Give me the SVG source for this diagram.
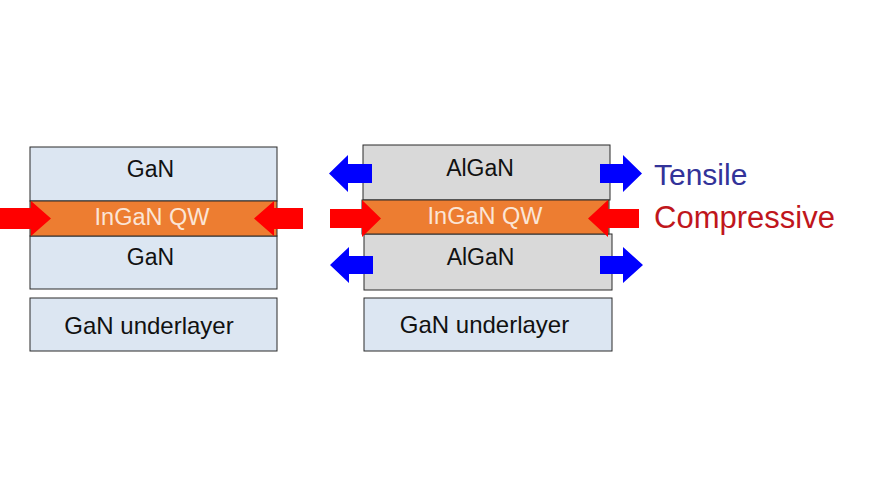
<svg xmlns="http://www.w3.org/2000/svg" width="887" height="498" viewBox="0 0 887 498">
<style>
.gan{fill:#dce6f2;stroke:#2a2a2a;stroke-width:1}
.algan{fill:#d9d9d9;stroke:#2a2a2a;stroke-width:1}
.qw{fill:#ed7d31;stroke:#2a2a2a;stroke-width:1}
.t{font-family:"Liberation Sans",Arial,sans-serif;font-size:23px;fill:#111;text-anchor:middle}
.tq{font-family:"Liberation Sans",Arial,sans-serif;font-size:23.5px;fill:#fbe5d6;text-anchor:middle}
.red{fill:#ff0000}
.blue{fill:#0000ff}
.lbl{font-family:"Liberation Sans",Arial,sans-serif;font-size:30px}
</style>
<rect width="887" height="498" fill="#ffffff"/>
<g id="left-stack">
<rect class="gan" x="30" y="147" width="247" height="54"/>
<rect class="gan" x="30" y="236" width="247" height="53"/>
<rect class="qw" x="30" y="201" width="247" height="35"/>
<text class="t" x="150.5" y="177">GaN</text>
<text class="tq" x="152" y="225">InGaN QW</text>
<text class="t" x="150.5" y="265">GaN</text>
</g>
<g id="left-underlayer">
<rect class="gan" x="30" y="298" width="247" height="53"/>
<text class="t" style="font-size:24px" x="149" y="334">GaN underlayer</text>
</g>
<g id="right-stack">
<rect class="algan" x="363" y="145" width="247" height="55"/>
<rect class="algan" x="364" y="234" width="248" height="56"/>
<rect class="qw" x="362" y="200" width="247" height="34"/>
<text class="t" x="480" y="176">AlGaN</text>
<text class="tq" x="485" y="224">InGaN QW</text>
<text class="t" x="480.5" y="264.5">AlGaN</text>
</g>
<g id="right-underlayer">
<rect class="gan" x="364" y="298" width="248" height="53"/>
<text class="t" style="font-size:24px" x="484.5" y="333">GaN underlayer</text>
</g>
<g id="connectors">
<polygon class="red" points="0,208 31,208 31,201 51,218.5 31,236 31,229 0,229"/>
<polygon class="red" points="303,208 274,208 274,201 254,218.5 274,236 274,229 303,229"/>
<polygon class="red" points="330,209 362,209 362,200 381,218.5 362,237 362,228 330,228"/>
<polygon class="red" points="639,209 608,209 608,200 588,218.5 608,237 608,228 639,228"/>
<polygon class="blue" points="372,164 348,164 348,155 329,173.5 348,192 348,183 372,183"/>
<polygon class="blue" points="600,164 623,164 623,155 642,173.5 623,192 623,183 600,183"/>
<polygon class="blue" points="373,256 349,256 349,247 330,265 349,283 349,274 373,274"/>
<polygon class="blue" points="600,256 623,256 623,247 643,265 623,283 623,274 600,274"/>
</g>
<g id="legend">
<text class="lbl" x="654" y="185" fill="#333399">Tensile</text>
<text class="lbl" x="654" y="228" fill="#c0161c" style="font-size:31px">Compressive</text>
</g>
</svg>
